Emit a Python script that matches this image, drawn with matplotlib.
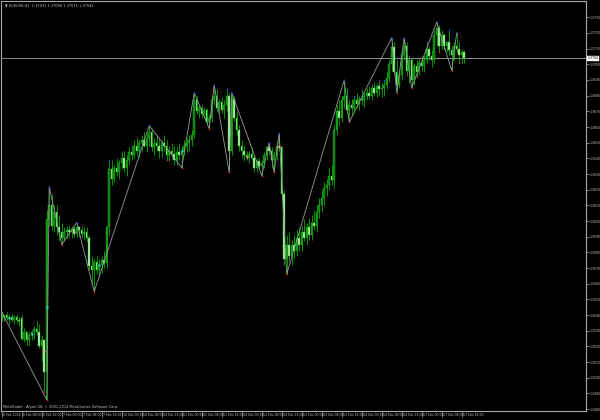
import matplotlib
matplotlib.use("Agg")
import matplotlib.pyplot as plt
import matplotlib.transforms as mtransforms

# EURUSD H1 bars
opens = [
    1.3539, 1.3538, 1.3540, 1.3538, 1.3539, 1.3537, 1.3539, 1.3537, 1.3538, 1.3525,
    1.3529, 1.3524, 1.3527, 1.3529, 1.3531, 1.3529, 1.3520, 1.3524, 1.3504, 1.3601,
    1.3610, 1.3597, 1.3606, 1.3596, 1.3593, 1.3589, 1.3593, 1.3594, 1.3593, 1.3595,
    1.3592, 1.3596, 1.3594, 1.3592, 1.3593, 1.3589, 1.3571, 1.3569, 1.3574, 1.3569,
    1.3572, 1.3575, 1.3573, 1.3596, 1.3633, 1.3627, 1.3634, 1.3631, 1.3637, 1.3640,
    1.3634, 1.3639, 1.3644, 1.3642, 1.3648, 1.3645, 1.3650, 1.3652, 1.3648, 1.3653,
    1.3657, 1.3647, 1.3650, 1.3648, 1.3645, 1.3650, 1.3648, 1.3642, 1.3645, 1.3643,
    1.3639, 1.3644, 1.3642, 1.3645, 1.3648, 1.3650, 1.3652, 1.3655, 1.3677, 1.3670,
    1.3672, 1.3668, 1.3671, 1.3663, 1.3666, 1.3677, 1.3680, 1.3672, 1.3676, 1.3671,
    1.3674, 1.3680, 1.3645, 1.3678, 1.3666, 1.3658, 1.3648, 1.3645, 1.3642, 1.3641,
    1.3643, 1.3640, 1.3634, 1.3638, 1.3635, 1.3637, 1.3642, 1.3647, 1.3645, 1.3639,
    1.3642, 1.3648, 1.3647, 1.3617, 1.3576, 1.3585, 1.3578, 1.3585, 1.3581, 1.3589,
    1.3585, 1.3593, 1.3589, 1.3596, 1.3591, 1.3599, 1.3597, 1.3606, 1.3610, 1.3615,
    1.3621, 1.3623, 1.3629, 1.3626, 1.3658, 1.3670, 1.3666, 1.3677, 1.3680, 1.3671,
    1.3674, 1.3672, 1.3677, 1.3675, 1.3678, 1.3677, 1.3680, 1.3682, 1.3680, 1.3685,
    1.3682, 1.3686, 1.3684, 1.3685, 1.3687, 1.3691, 1.3700, 1.3711, 1.3695, 1.3687,
    1.3693, 1.3706, 1.3712, 1.3696, 1.3703, 1.3690, 1.3699, 1.3695, 1.3701, 1.3699,
    1.3703, 1.3710, 1.3705, 1.3703, 1.3719, 1.3723, 1.3712, 1.3719, 1.3712, 1.3714,
    1.3709, 1.3706, 1.3712, 1.3710, 1.3706, 1.3708,
]
highs = [
    1.3542, 1.3541, 1.3542, 1.3541, 1.3541, 1.3540, 1.3541, 1.3539, 1.3540, 1.3532,
    1.3530, 1.3529, 1.3530, 1.3533, 1.3536, 1.3534, 1.3527, 1.3525, 1.3607, 1.3622,
    1.3617, 1.3610, 1.3610, 1.3604, 1.3599, 1.3596, 1.3597, 1.3597, 1.3597, 1.3597,
    1.3599, 1.3597, 1.3597, 1.3596, 1.3596, 1.3591, 1.3578, 1.3576, 1.3578, 1.3576,
    1.3578, 1.3581, 1.3597, 1.3639, 1.3639, 1.3636, 1.3640, 1.3639, 1.3645, 1.3645,
    1.3642, 1.3647, 1.3648, 1.3652, 1.3653, 1.3652, 1.3655, 1.3657, 1.3656, 1.3661,
    1.3659, 1.3653, 1.3655, 1.3653, 1.3652, 1.3655, 1.3652, 1.3648, 1.3650, 1.3648,
    1.3647, 1.3650, 1.3648, 1.3652, 1.3653, 1.3655, 1.3658, 1.3682, 1.3680, 1.3674,
    1.3675, 1.3673, 1.3672, 1.3668, 1.3680, 1.3687, 1.3684, 1.3678, 1.3679, 1.3677,
    1.3684, 1.3682, 1.3682, 1.3680, 1.3670, 1.3661, 1.3652, 1.3648, 1.3645, 1.3645,
    1.3647, 1.3642, 1.3640, 1.3640, 1.3639, 1.3644, 1.3648, 1.3650, 1.3647, 1.3645,
    1.3652, 1.3656, 1.3648, 1.3620, 1.3591, 1.3593, 1.3588, 1.3591, 1.3594, 1.3596,
    1.3597, 1.3601, 1.3599, 1.3602, 1.3604, 1.3607, 1.3610, 1.3615, 1.3620, 1.3625,
    1.3627, 1.3634, 1.3636, 1.3661, 1.3674, 1.3677, 1.3680, 1.3690, 1.3685, 1.3677,
    1.3678, 1.3680, 1.3682, 1.3680, 1.3684, 1.3682, 1.3685, 1.3686, 1.3687, 1.3689,
    1.3688, 1.3690, 1.3688, 1.3690, 1.3695, 1.3703, 1.3717, 1.3714, 1.3703, 1.3696,
    1.3709, 1.3717, 1.3714, 1.3706, 1.3704, 1.3701, 1.3703, 1.3704, 1.3705, 1.3706,
    1.3714, 1.3712, 1.3709, 1.3722, 1.3727, 1.3725, 1.3722, 1.3720, 1.3715, 1.3722,
    1.3712, 1.3714, 1.3720, 1.3714, 1.3710, 1.3709,
]
lows = [
    1.3536, 1.3536, 1.3537, 1.3534, 1.3536, 1.3534, 1.3535, 1.3533, 1.3524, 1.3523,
    1.3521, 1.3520, 1.3524, 1.3525, 1.3527, 1.3519, 1.3511, 1.3491, 1.3486, 1.3597,
    1.3594, 1.3593, 1.3591, 1.3588, 1.3585, 1.3587, 1.3589, 1.3590, 1.3589, 1.3590,
    1.3590, 1.3590, 1.3589, 1.3588, 1.3587, 1.3569, 1.3559, 1.3555, 1.3566, 1.3564,
    1.3567, 1.3570, 1.3570, 1.3591, 1.3623, 1.3625, 1.3629, 1.3627, 1.3633, 1.3631,
    1.3629, 1.3636, 1.3639, 1.3640, 1.3642, 1.3640, 1.3645, 1.3647, 1.3644, 1.3648,
    1.3645, 1.3642, 1.3645, 1.3640, 1.3641, 1.3645, 1.3639, 1.3638, 1.3640, 1.3636,
    1.3636, 1.3639, 1.3634, 1.3642, 1.3644, 1.3645, 1.3648, 1.3653, 1.3668, 1.3666,
    1.3666, 1.3666, 1.3661, 1.3659, 1.3663, 1.3674, 1.3670, 1.3668, 1.3669, 1.3666,
    1.3670, 1.3631, 1.3642, 1.3664, 1.3655, 1.3645, 1.3640, 1.3638, 1.3639, 1.3637,
    1.3639, 1.3631, 1.3631, 1.3633, 1.3629, 1.3634, 1.3639, 1.3642, 1.3634, 1.3631,
    1.3639, 1.3645, 1.3613, 1.3572, 1.3566, 1.3574, 1.3572, 1.3576, 1.3578, 1.3581,
    1.3581, 1.3587, 1.3585, 1.3588, 1.3588, 1.3594, 1.3593, 1.3602, 1.3606, 1.3610,
    1.3616, 1.3620, 1.3623, 1.3621, 1.3655, 1.3661, 1.3663, 1.3672, 1.3668, 1.3663,
    1.3668, 1.3670, 1.3672, 1.3671, 1.3674, 1.3673, 1.3677, 1.3678, 1.3677, 1.3680,
    1.3679, 1.3680, 1.3679, 1.3680, 1.3684, 1.3689, 1.3696, 1.3693, 1.3682, 1.3685,
    1.3690, 1.3703, 1.3693, 1.3688, 1.3685, 1.3687, 1.3692, 1.3693, 1.3696, 1.3695,
    1.3701, 1.3703, 1.3698, 1.3701, 1.3712, 1.3708, 1.3710, 1.3709, 1.3708, 1.3706,
    1.3696, 1.3703, 1.3708, 1.3701, 1.3701, 1.3701,
]
closes = [
    1.3538, 1.3540, 1.3538, 1.3539, 1.3537, 1.3539, 1.3537, 1.3536, 1.3525, 1.3529,
    1.3524, 1.3527, 1.3529, 1.3531, 1.3529, 1.3520, 1.3524, 1.3504, 1.3601, 1.3610,
    1.3597, 1.3606, 1.3596, 1.3593, 1.3589, 1.3593, 1.3594, 1.3593, 1.3595, 1.3592,
    1.3596, 1.3594, 1.3592, 1.3593, 1.3589, 1.3571, 1.3569, 1.3574, 1.3569, 1.3572,
    1.3575, 1.3573, 1.3596, 1.3633, 1.3627, 1.3634, 1.3631, 1.3637, 1.3640, 1.3634,
    1.3639, 1.3644, 1.3642, 1.3648, 1.3645, 1.3650, 1.3652, 1.3648, 1.3653, 1.3657,
    1.3647, 1.3650, 1.3648, 1.3645, 1.3650, 1.3648, 1.3642, 1.3645, 1.3643, 1.3639,
    1.3644, 1.3642, 1.3645, 1.3648, 1.3650, 1.3652, 1.3655, 1.3677, 1.3670, 1.3672,
    1.3668, 1.3671, 1.3663, 1.3666, 1.3677, 1.3680, 1.3672, 1.3676, 1.3671, 1.3674,
    1.3680, 1.3645, 1.3678, 1.3666, 1.3658, 1.3648, 1.3645, 1.3642, 1.3641, 1.3643,
    1.3640, 1.3634, 1.3638, 1.3635, 1.3637, 1.3642, 1.3647, 1.3645, 1.3639, 1.3642,
    1.3648, 1.3647, 1.3617, 1.3576, 1.3585, 1.3578, 1.3585, 1.3581, 1.3589, 1.3585,
    1.3593, 1.3589, 1.3596, 1.3591, 1.3599, 1.3597, 1.3606, 1.3610, 1.3615, 1.3621,
    1.3623, 1.3629, 1.3626, 1.3658, 1.3670, 1.3666, 1.3677, 1.3680, 1.3671, 1.3674,
    1.3672, 1.3677, 1.3675, 1.3678, 1.3677, 1.3680, 1.3682, 1.3680, 1.3685, 1.3682,
    1.3686, 1.3684, 1.3685, 1.3687, 1.3691, 1.3700, 1.3711, 1.3695, 1.3687, 1.3693,
    1.3706, 1.3712, 1.3696, 1.3703, 1.3690, 1.3699, 1.3695, 1.3701, 1.3699, 1.3703,
    1.3710, 1.3705, 1.3703, 1.3719, 1.3723, 1.3712, 1.3719, 1.3712, 1.3714, 1.3709,
    1.3706, 1.3712, 1.3710, 1.3706, 1.3708, 1.3704,
]

time_labels = [
    "6 Feb 2014", "6 Feb 08:00", "6 Feb 16:00", "7 Feb 00:00", "7 Feb 08:00",
    "7 Feb 16:00", "10 Feb 00:00", "10 Feb 08:00", "10 Feb 16:00", "11 Feb 00:00",
    "11 Feb 08:00", "11 Feb 16:00", "12 Feb 00:00", "12 Feb 08:00", "12 Feb 16:00",
    "13 Feb 00:00", "13 Feb 08:00", "13 Feb 16:00", "14 Feb 00:00", "14 Feb 08:00",
    "14 Feb 16:00", "17 Feb 00:00", "17 Feb 08:00", "17 Feb 16:00",
]
bars_per_label = 8

price_ticks = [1.3480, 1.3490, 1.3500, 1.3510, 1.3520, 1.3530, 1.3540, 1.3550,
               1.3560, 1.3570, 1.3580, 1.3590, 1.3600, 1.3610, 1.3620, 1.3630,
               1.3640, 1.3650, 1.3660, 1.3670, 1.3680, 1.3690, 1.3700, 1.3710,
               1.3720, 1.3730]

# zigzag pivots (bar index, H = high / L = low)
zigzag_bars = [0, 18, 19, 24, 30, 37, 59, 72, 77, 83, 85, 91, 92, 104,
               107, 109, 111, 114, 137, 139, 156, 158, 161, 164, 174, 180, 182]
zigzag_kind = ["H", "L", "H", "L", "H", "L", "H", "L", "H", "L", "H", "L", "H", "L",
               "H", "L", "H", "L", "H", "L", "H", "L", "H", "L", "H", "L", "H"]

up_dots = [19, 30, 43, 59, 77, 85, 90, 92, 107, 111, 137, 141, 148, 151, 153,
           156, 161, 170, 174, 179, 182]
down_dots = [17, 18, 24, 37, 66, 72, 83, 91, 104, 109, 114, 139, 158, 162, 164,
             166, 175, 180, 183]
cyan_marks = [(3, 1.3538), (12, 1.3528), (18, 1.3545), (39, 1.3572), (72, 1.3645)]
pink_marks = [(17, 1.3517), (29, 1.3593), (98, 1.3641), (111, 1.3647)]

header = "EURUSD,H1  1.37031 1.37058 1.37015 1.37042"
footer = "MetaTrader - Alpari UK, \u00a9 2001-2014 MetaQuotes Software Corp."
last_price = closes[-1]

BULL_BODY = "#0a7a0a"
BEAR_BODY = "#b8f0b0"
WICK = "#00b000"
AXIS = "#a8a8a8"
TEXT = "#c8c8c8"
FONT = dict(family="DejaVu Sans", stretch="condensed")

fig = plt.figure(figsize=(6, 4.2), dpi=100, facecolor="black")
ax = fig.add_axes([1 / 600, 9 / 420, 585 / 600, 410 / 420], facecolor="black")

xs = list(range(len(closes)))
ax.vlines(xs, lows, highs, color=WICK, lw=0.6, zorder=2)
for i in xs:
    o, c = opens[i], closes[i]
    bull = c >= o
    ax.bar(i, max(abs(c - o), 0.00002), bottom=min(o, c), width=0.62,
           color=BULL_BODY if bull else BEAR_BODY,
           edgecolor="#30c030", linewidth=0.3, zorder=3)

# zigzag line
zz_y = [highs[b] if k == "H" else lows[b] for b, k in zip(zigzag_bars, zigzag_kind)]
ax.plot(zigzag_bars, zz_y, color="#9a9a9a", lw=0.6, zorder=4)

# fractal-like dots
ax.plot(up_dots, [highs[b] for b in up_dots], ls="none", marker="s", ms=1.0,
        color="#2040ff", mec="none", zorder=5)
ax.plot(down_dots, [lows[b] for b in down_dots], ls="none", marker="s", ms=1.0,
        color="#e02020", mec="none", zorder=5)
ax.plot([m[0] for m in cyan_marks], [m[1] for m in cyan_marks], ls="none",
        marker="s", ms=1.6, color="#20e0e0", mec="none", zorder=5)
ax.plot([m[0] for m in pink_marks], [m[1] for m in pink_marks], ls="none",
        marker="s", ms=1.6, color="#ff80c0", mec="none", zorder=5)

# current price line
ax.axhline(last_price, color="#909090", lw=0.7, zorder=1)

ax.set_xlim(-0.28, 233.72)
ax.set_ylim(1.34788, 1.37404)

for s in ax.spines.values():
    s.set_color(AXIS)
    s.set_linewidth(0.8)

ax.yaxis.tick_right()
ax.set_yticks(price_ticks)
ax.set_yticklabels(["%.4f" % p for p in price_ticks], **FONT)
ax.tick_params(axis="y", colors=AXIS, length=2.0, width=0.5, pad=0.6,
               labelsize=2.5, labelcolor=TEXT)

tick_pos = [k * bars_per_label for k in range(len(time_labels))]
ax.set_xticks(tick_pos)
ax.set_xticklabels(time_labels, ha="left", **FONT)
ax.tick_params(axis="x", colors=AXIS, length=4.5, width=0.5, pad=-3.0,
               labelsize=2.5, labelcolor=TEXT)
shift = mtransforms.ScaledTranslation(1.2 / 100, 0, fig.dpi_scale_trans)
for lbl in ax.get_xticklabels():
    lbl.set_transform(lbl.get_transform() + shift)

# current price box on the axis
trans = mtransforms.blended_transform_factory(ax.transAxes, ax.transData)
ax.text(1.003, last_price, "%.4f" % last_price, transform=trans, ha="left",
        va="center", fontsize=2.5, color="black", **FONT,
        bbox=dict(boxstyle="square,pad=0.15", fc="white", ec="white", lw=0.3))

ax.text(0.006, 0.994, "\u25bc " + header, transform=ax.transAxes, ha="left",
        va="top", fontsize=2.8, color=TEXT, **FONT)
ax.text(0.003, 0.004, footer, transform=ax.transAxes, ha="left", va="bottom",
        fontsize=2.8, color=TEXT, **FONT)

fig.savefig("out.png", dpi=100, facecolor="black")
